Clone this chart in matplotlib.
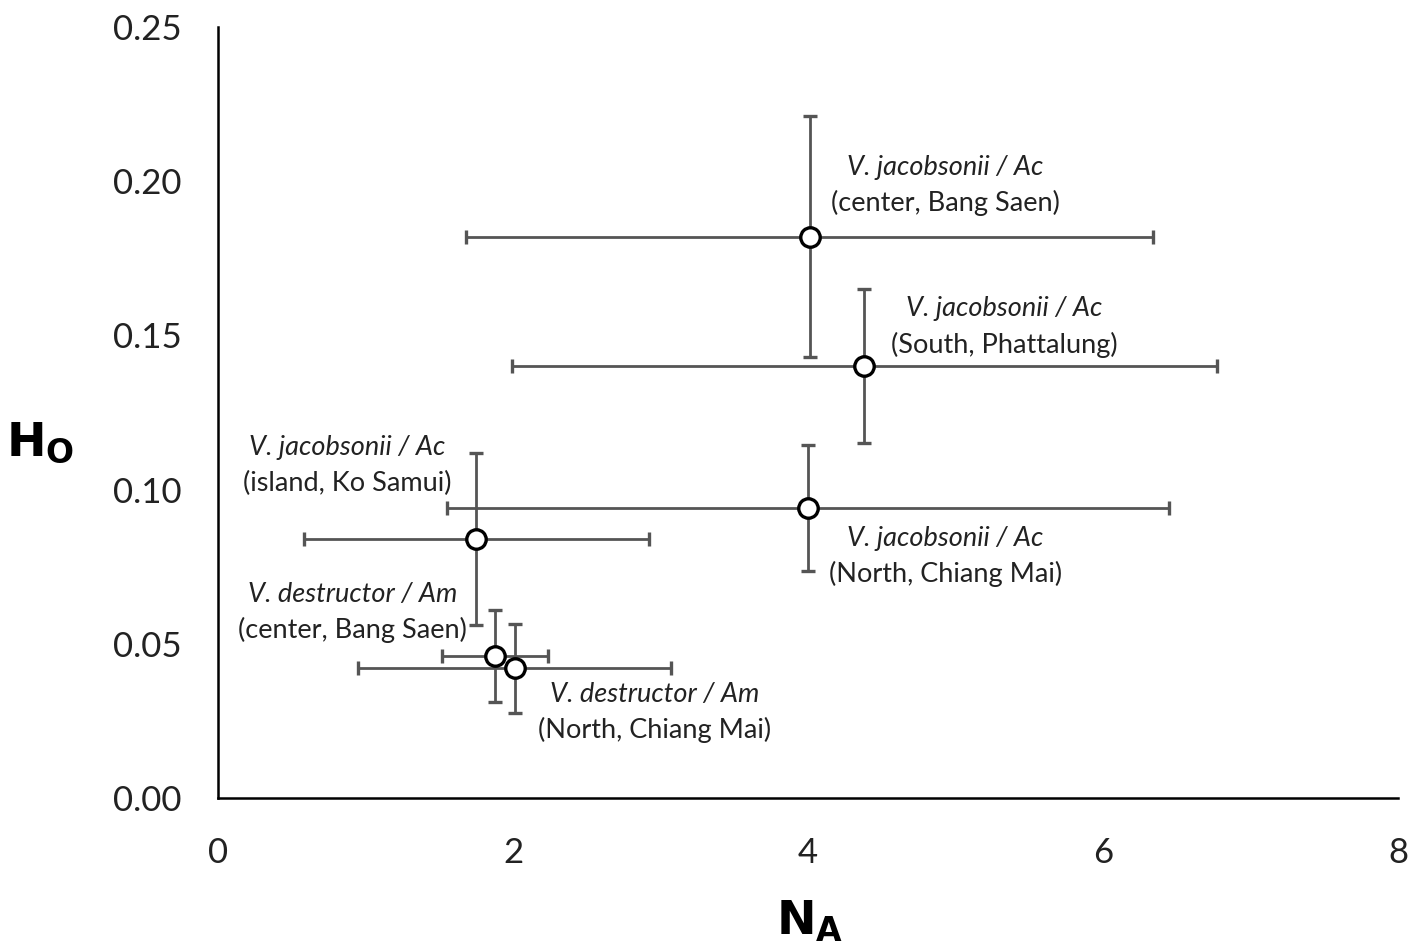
import numpy as np
import matplotlib.pyplot as plt

plt.rcParams['font.family'] = ['Lato', 'DejaVu Sans']

# allelic richness (N_A) and observed heterozygosity (H_O) per population
species = ["V. jacobsonii / Ac", "V. jacobsonii / Ac", "V. jacobsonii / Ac",
           "V. jacobsonii / Ac", "V. destructor / Am", "V. destructor / Am"]
sites = ["(center, Bang Saen)", "(South, Phattalung)", "(North, Chiang Mai)",
         "(island, Ko Samui)", "(center, Bang Saen)", "(North, Chiang Mai)"]
na = [4.01, 4.38, 4.00, 1.75, 1.88, 2.01]
na_err = [2.33, 2.39, 2.45, 1.17, 0.36, 1.06]
ho = [0.182, 0.140, 0.094, 0.084, 0.046, 0.042]
ho_err = [0.039, 0.025, 0.0205, 0.028, 0.015, 0.0143]

# where each two-line label sits (centre x, y of first line, y of second line)
label_pos = [(4.93, 0.2043, 0.1929), (5.33, 0.1586, 0.1469),
             (4.93, 0.0843, 0.0726), (0.875, 0.1138, 0.1021),
             (0.91, 0.0661, 0.0545), (2.96, 0.0337, 0.0220)]

fig = plt.figure(figsize=(14.26, 9.52), dpi=100)
ax = fig.add_axes([0.1529, 0.1618, 0.8275, 0.8098])

ax.errorbar(na, ho, xerr=na_err, yerr=ho_err, fmt='o', color='#555555',
            ecolor='#555555', elinewidth=2, capsize=5, capthick=1.5,
            markersize=14, markerfacecolor='white', markeredgecolor='black',
            markeredgewidth=2.4, zorder=3)

for sp, site, (lx, ly1, ly2) in zip(species, sites, label_pos):
    ax.text(lx, ly1, sp, style='italic', fontsize=19.5, ha='center', va='center',
            color='#222222')
    ax.text(lx, ly2, site, fontsize=19.5, ha='center', va='center', color='#222222')

ax.set_xlim(0, 8)
ax.set_ylim(0, 0.25)
ax.set_xticks([0, 2, 4, 6, 8])
ax.set_yticks([0, 0.05, 0.10, 0.15, 0.20, 0.25])
ax.set_yticklabels(["0.00", "0.05", "0.10", "0.15", "0.20", "0.25"])
ax.tick_params(length=0, labelsize=25, colors='#222222')
ax.tick_params(axis='x', pad=28)
ax.tick_params(axis='y', pad=26)
for s in ['top', 'right']:
    ax.spines[s].set_visible(False)
for s in ['left', 'bottom']:
    ax.spines[s].set_linewidth(1.8)
    ax.spines[s].set_color('black')

fig.text(0.028, 0.535, r'$\mathbf{H_O}$', fontsize=34, ha='center', va='center')
fig.text(0.568, 0.032, r'$\mathbf{N_A}$', fontsize=34, ha='center', va='center')

fig.savefig("out.png", dpi=100)
